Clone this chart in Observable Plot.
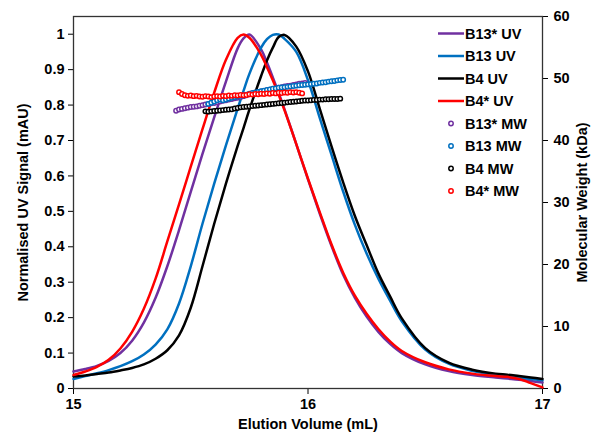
<!DOCTYPE html>
<html><head><meta charset="utf-8">
<script src="https://cdn.jsdelivr.net/npm/d3@7"></script>
<script src="https://cdn.jsdelivr.net/npm/@observablehq/plot@0.6"></script>
<style>
html,body{margin:0;padding:0;background:#fff;}
#wrap{position:relative;width:592px;height:433px;font-family:Arial,"Liberation Sans",sans-serif;}
#legend{position:absolute;left:0;top:0;pointer-events:none;}
</style></head><body><div id="wrap"></div>
<script>
// ---- data ----
const seriesNames = ["B13*", "B13", "B4", "B4*"];
const seriesColors = ["#7030A0", "#0070C0", "#000000", "#FF0000"];
const xTicks = [15, 16, 17];
const uvTicks = [0, 0.1, 0.2, 0.3, 0.4, 0.5, 0.6, 0.7, 0.8, 0.9, 1];
const mwTicks = [0, 10, 20, 30, 40, 50, 60];

const uvVolume = [15.00,15.05,15.10,15.15,15.20,15.25,15.30,15.35,15.40,15.45,15.50,15.55,15.60,15.65,15.70,15.725,15.75,15.80,15.825,15.85,15.875,15.90,15.95,16.00,16.05,16.10,16.15,16.20,16.25,16.30,16.35,16.40,16.50,16.60,16.70,16.80,16.85,16.90,16.95,17.00];
const uvB13s = [0.048,0.055,0.064,0.078,0.100,0.135,0.186,0.256,0.345,0.447,0.555,0.662,0.765,0.866,0.960,0.988,0.999,0.957,0.920,0.878,0.834,0.788,0.690,0.590,0.494,0.403,0.321,0.256,0.203,0.160,0.126,0.100,0.068,0.049,0.038,0.031,0.028,0.025,0.021,0.017];
const uvB13 = [0.027,0.035,0.043,0.052,0.063,0.077,0.096,0.124,0.167,0.240,0.345,0.465,0.578,0.686,0.790,0.840,0.888,0.962,0.986,0.998,0.999,0.987,0.950,0.870,0.764,0.660,0.556,0.462,0.381,0.310,0.248,0.190,0.110,0.070,0.050,0.038,0.034,0.031,0.027,0.023];
const uvB4 = [0.034,0.037,0.041,0.045,0.051,0.058,0.068,0.084,0.108,0.150,0.228,0.345,0.465,0.578,0.685,0.735,0.787,0.882,0.926,0.962,0.992,0.998,0.965,0.895,0.790,0.684,0.582,0.487,0.405,0.325,0.260,0.198,0.114,0.073,0.053,0.042,0.039,0.035,0.031,0.027];
const uvB4s = [0.038,0.048,0.061,0.081,0.113,0.160,0.225,0.310,0.415,0.520,0.626,0.732,0.835,0.928,0.990,0.999,0.990,0.942,0.907,0.870,0.829,0.785,0.690,0.592,0.498,0.407,0.327,0.262,0.211,0.168,0.133,0.106,0.074,0.054,0.042,0.035,0.033,0.027,0.015,0.003];

const mwVolB13s = [15.4375,15.45,15.4625,15.475,15.4875,15.5,15.5125,15.525,15.5375,15.55,15.5625,15.575,15.5875,15.6,15.6125,15.625,15.6375,15.65,15.6625,15.675,15.6875,15.7,15.7125,15.725,15.7375,15.75,15.7625,15.775,15.7875,15.8,15.8125,15.825,15.8375,15.85,15.8625,15.875,15.8875,15.9,15.9125,15.925,15.9375,15.95,15.9625,15.975,15.9875];
const mwB13s = [44.8,45.0,45.1,45.2,45.3,45.4,45.45,45.5,45.6,45.7,45.8,45.9,46.0,46.05,46.15,46.3,46.4,46.5,46.6,46.7,46.8,46.9,47.0,47.15,47.3,47.45,47.6,47.7,47.8,47.9,48.0,48.1,48.2,48.3,48.4,48.5,48.6,48.7,48.8,48.85,48.95,49.05,49.15,49.2,49.3];

const mwVolB13 = [15.575,15.5875,15.6,15.6125,15.625,15.6375,15.65,15.6625,15.675,15.6875,15.7,15.7125,15.725,15.7375,15.75,15.7625,15.775,15.7875,15.8,15.8125,15.825,15.8375,15.85,15.8625,15.875,15.8875,15.9,15.9125,15.925,15.9375,15.95,15.9625,15.975,15.9875,16.0,16.0125,16.025,16.0375,16.05,16.0625,16.075,16.0875,16.1,16.1125,16.125,16.1375,16.15];
const mwB13 = [45.9,46.1,46.3,46.5,46.6,46.5,46.6,46.75,46.9,47.0,47.1,47.2,47.3,47.4,47.55,47.65,47.75,47.85,47.95,48.05,48.15,48.25,48.35,48.4,48.5,48.55,48.6,48.65,48.7,48.8,48.85,48.9,48.95,49.0,49.05,49.1,49.15,49.2,49.3,49.35,49.4,49.5,49.55,49.6,49.7,49.75,49.8];

const mwVolB4 = [15.5625,15.575,15.5875,15.6,15.6125,15.625,15.6375,15.65,15.6625,15.675,15.6875,15.7,15.7125,15.725,15.7375,15.75,15.7625,15.775,15.7875,15.8,15.8125,15.825,15.8375,15.85,15.8625,15.875,15.8875,15.9,15.9125,15.925,15.9375,15.95,15.9625,15.975,15.9875,16.0,16.0125,16.025,16.0375,16.05,16.0625,16.075,16.0875,16.1,16.1125,16.125,16.1375];
const mwB4 = [44.7,44.65,44.7,44.75,44.8,44.85,44.9,44.95,45.0,45.05,45.15,45.25,45.35,45.4,45.45,45.5,45.55,45.6,45.65,45.7,45.75,45.8,45.85,45.9,45.95,46.0,46.05,46.1,46.15,46.2,46.25,46.3,46.35,46.4,46.45,46.45,46.5,46.55,46.55,46.6,46.6,46.65,46.65,46.7,46.7,46.7,46.75];

const mwVolB4s = [15.45,15.4625,15.475,15.4875,15.5,15.5125,15.525,15.5375,15.55,15.5625,15.575,15.5875,15.6,15.6125,15.625,15.6375,15.65,15.6625,15.675,15.6875,15.7,15.7125,15.725,15.7375,15.75,15.7625,15.775,15.7875,15.8,15.8125,15.825,15.8375,15.85,15.8625,15.875,15.8875,15.9,15.9125,15.925,15.9375,15.95,15.9625,15.975];
const mwB4s = [47.8,47.5,47.3,47.2,47.25,47.15,47.2,47.1,47.05,47.15,47.1,47.0,47.1,47.15,47.1,47.2,47.15,47.25,47.2,47.3,47.25,47.35,47.3,47.35,47.45,47.4,47.5,47.45,47.55,47.5,47.6,47.55,47.65,47.6,47.7,47.65,47.75,47.7,47.8,47.75,47.8,47.7,47.6];

// ---- build tables ----
const uvSets = [uvB13s, uvB13, uvB4, uvB4s];
const uvRows = [];
uvSets.forEach((arr, i) => arr.forEach((s, j) => uvRows.push({series: seriesNames[i] + " UV", v: uvVolume[j], s})));
const mwSets = [[mwVolB13s, mwB13s], [mwVolB13, mwB13], [mwVolB4, mwB4], [mwVolB4s, mwB4s]];
const mwRows = [];
mwSets.forEach(([vs, ms], i) => vs.forEach((v, j) => mwRows.push({series: seriesNames[i] + " MW", v, mw: ms[j]})));

const yTop = 1.05, mwTop = 60, K = yTop / mwTop;
const colorDomain = seriesNames.map(n => n + " UV").concat(seriesNames.map(n => n + " MW"));
const colorRange = seriesColors.concat(seriesColors);

const plot = Plot.plot({
  width: 592, height: 433,
  marginLeft: 73, marginRight: 50, marginTop: 16, marginBottom: 45,
  style: {fontFamily: "Arial, 'Liberation Sans', sans-serif", fontSize: "14.5px", fontWeight: "bold", color: "#000", background: "#fff", overflow: "visible"},
  x: {domain: [15, 17]},
  y: {domain: [0, yTop]},
  color: {domain: colorDomain, range: colorRange},
  marks: [
    Plot.axisX({ticks: xTicks, tickSize: 6, tickPadding: 4, tickFormat: d => String(d), label: "Elution Volume (mL)", labelAnchor: "center", labelOffset: 40, labelArrow: "none"}),
    Plot.axisY({ticks: uvTicks, tickSize: 5, tickPadding: 4, tickFormat: d => String(+d.toFixed(1)), label: "Normalised UV Signal (mAU)", labelAnchor: "center", labelOffset: 56, labelArrow: "none"}),
    Plot.axisY({anchor: "right", ticks: mwTicks.map(m => m * K), tickSize: 5, tickPadding: 6, tickFormat: d => String(Math.round(d / K)), label: "Molecular Weight (kDa)", labelAnchor: "center", labelOffset: 44, labelArrow: "none"}),
    Plot.frame({stroke: "#333", strokeWidth: 1.3}),
    Plot.line(uvRows, {x: "v", y: "s", z: "series", stroke: "series", strokeWidth: 2.5, curve: "catmull-rom"}),
    Plot.dot(mwRows, {x: "v", y: d => d.mw * K, stroke: "series", fill: "white", r: 2.2, strokeWidth: 1.5})
  ]
});
const wrap = document.getElementById("wrap");
wrap.appendChild(plot);

// ---- legend (inside plot, top right) ----
const leg = d3.select(wrap).append("svg").attr("id", "legend").attr("width", 592).attr("height", 433);
colorDomain.forEach((name, i) => {
  const cy = 33.5 + i * 22.5;
  const g = leg.append("g").attr("transform", `translate(0,${cy})`);
  if (name.endsWith("UV")) {
    g.append("line").attr("x1", 438).attr("x2", 464).attr("y1", 0).attr("y2", 0).attr("stroke", colorRange[i]).attr("stroke-width", 2.5);
  } else {
    g.append("circle").attr("cx", 451).attr("cy", 0).attr("r", 2.2).attr("fill", "white").attr("stroke", colorRange[i]).attr("stroke-width", 1.5);
  }
  g.append("text").attr("x", 465).attr("y", 0).attr("dy", "0.35em").attr("font-size", "14.5px").attr("font-weight", "bold").attr("font-family", "Arial, 'Liberation Sans', sans-serif").attr("fill", "#000").text(name);
});
</script>
</body></html>
